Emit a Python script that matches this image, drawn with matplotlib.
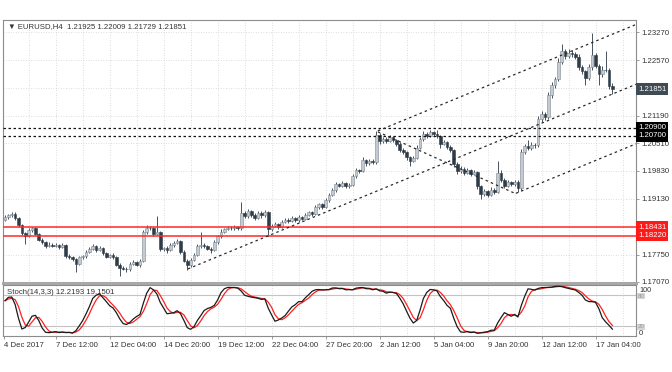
import matplotlib
matplotlib.use("Agg")
import matplotlib.pyplot as plt
import matplotlib.transforms as mtransforms
import numpy as np
import pandas as pd
from matplotlib import rcParams

rcParams["font.family"] = ["Liberation Sans", "DejaVu Sans"]

# ---- data ----
FIRST_OPEN = 1.1862
CLOSES = [
    1.1868, 1.1872, 1.1876, 1.1866, 1.1848, 1.1828, 1.1822, 1.1836, 1.1840, 1.1826,
    1.1812, 1.1805, 1.1796, 1.1800, 1.1797, 1.1799, 1.1794, 1.1798, 1.1772, 1.1768,
    1.1764, 1.1752, 1.1768, 1.1772, 1.1782, 1.1790, 1.1796, 1.1786, 1.1792, 1.1778,
    1.1770, 1.1774, 1.1768, 1.1750, 1.1742, 1.1740, 1.1738, 1.1752, 1.1756, 1.1750,
    1.1760, 1.1830, 1.1842, 1.1840, 1.1826, 1.1830, 1.1788, 1.1792, 1.1786, 1.1798,
    1.1804, 1.1808, 1.1782, 1.1760, 1.1748, 1.1762, 1.1774, 1.1796, 1.1800, 1.1796,
    1.1790, 1.1786, 1.1806, 1.1820, 1.1832, 1.1838, 1.1842, 1.1840, 1.1844, 1.1840,
    1.1878, 1.1870, 1.1882, 1.1874, 1.1866, 1.1878, 1.1872, 1.1880, 1.1838, 1.1846,
    1.1850, 1.1844, 1.1856, 1.1862, 1.1858, 1.1866, 1.1860, 1.1868, 1.1864, 1.1874,
    1.1880, 1.1876, 1.1892, 1.1900, 1.1894, 1.1910, 1.1924, 1.1936, 1.1950, 1.1946,
    1.1952, 1.1944, 1.1948, 1.1970, 1.1984, 1.1982, 1.2010, 1.2002, 1.2008, 1.2004,
    1.2072, 1.2056, 1.2062, 1.2058, 1.2066, 1.2060, 1.2050, 1.2034, 1.2030, 1.2016,
    1.2008, 1.2014, 1.2040, 1.2062, 1.2074, 1.2070, 1.2078, 1.2074, 1.2068, 1.2050,
    1.2054, 1.2042, 1.2034, 1.2000, 1.1982, 1.1988, 1.1978, 1.1984, 1.1976, 1.1980,
    1.1944, 1.1926, 1.1932, 1.1924, 1.1936, 1.1930, 1.1978, 1.1960, 1.1946, 1.1954,
    1.1950, 1.1956, 1.1940, 1.2030, 1.2044, 1.2040, 1.2048, 1.2046, 1.2112, 1.2124,
    1.2116, 1.2170, 1.2196, 1.2210, 1.2254, 1.2280, 1.2268, 1.2276, 1.2272, 1.2266,
    1.2240, 1.2230, 1.2214, 1.2240, 1.2270, 1.2244, 1.2222, 1.2234, 1.2232, 1.21925,
    1.21851,
]
# wick lengths in pips above / below the candle body
HI_WICK = [
    4, 3, 5, 4, 3, 4, 3, 6, 4, 3,
    3, 4, 3, 5, 3, 4, 3, 5, 3, 4,
    3, 3, 4, 3, 5, 4, 6, 3, 5, 3,
    4, 3, 4, 3, 3, 5, 3, 4, 5, 3,
    4, 5, 6, 4, 3, 40, 4, 3, 4, 5,
    4, 6, 3, 4, 3, 5, 4, 6, 32, 4,
    3, 4, 5, 4, 6, 4, 5, 3, 4, 3,
    27, 5, 6, 4, 3, 6, 4, 5, 3, 4,
    5, 3, 4, 5, 3, 4, 3, 4, 3, 5,
    4, 3, 5, 4, 3, 5, 4, 5, 6, 3,
    5, 3, 4, 6, 5, 4, 6, 3, 5, 4,
    10, 4, 5, 4, 6, 4, 3, 4, 5, 3,
    4, 5, 6, 5, 7, 4, 5, 4, 11, 4,
    5, 3, 4, 4, 5, 6, 4, 5, 3, 4,
    3, 4, 5, 4, 6, 4, 29, 6, 4, 5,
    4, 5, 3, 6, 5, 15, 6, 4, 8, 7,
    5, 8, 7, 6, 8, 17, 6, 8, 6, 5,
    6, 5, 4, 8, 54, 6, 5, 8, 46, 6,
    8.4,
]
LO_WICK = [
    3, 4, 3, 5, 4, 5, 20, 3, 4, 3,
    4, 3, 5, 3, 4, 3, 4, 3, 5, 4,
    5, 20, 4, 3, 5, 3, 4, 4, 3, 5,
    4, 3, 5, 4, 20, 4, 5, 3, 4, 4,
    5, 3, 4, 5, 4, 3, 5, 4, 6, 3,
    4, 3, 5, 4, 11, 3, 4, 3, 4, 5,
    4, 6, 3, 4, 3, 4, 3, 5, 3, 4,
    3, 5, 4, 6, 4, 3, 5, 4, 18, 4,
    3, 5, 4, 3, 5, 3, 4, 5, 3, 4,
    3, 5, 4, 3, 6, 3, 4, 3, 5, 4,
    3, 5, 4, 3, 4, 5, 3, 6, 4, 5,
    4, 6, 4, 5, 3, 5, 6, 4, 5, 6,
    14, 4, 3, 4, 5, 6, 4, 5, 4, 10,
    4, 6, 5, 7, 6, 5, 6, 4, 5, 4,
    6, 12, 5, 6, 4, 5, 3, 6, 5, 4,
    5, 4, 10, 4, 5, 6, 5, 6, 5, 7,
    8, 5, 6, 7, 5, 6, 8, 6, 7, 6,
    8, 7, 17, 5, 6, 7, 27, 6, 5, 7,
    12.2,
]
DATE_LABELS = [
    "4 Dec 2017", "7 Dec 12:00", "12 Dec 04:00", "14 Dec 20:00", "19 Dec 12:00",
    "22 Dec 04:00", "27 Dec 20:00", "2 Jan 12:00", "5 Jan 04:00", "9 Jan 20:00",
    "12 Jan 12:00", "17 Jan 04:00",
]
PRICE_TICKS = [1.2327, 1.2257, 1.2188, 1.2119, 1.2051, 1.1983, 1.1913, 1.1844, 1.1775, 1.1707]
PRICE_LABELS = ["1.23270", "1.22570", "", "1.21190", "1.20510", "1.19830", "1.19130", "", "1.17750", "1.17070"]
BLACK_LEVELS = [1.20900, 1.20700]
RED_LEVELS = [1.18431, 1.18220]
# trend/channel lines: (bar, price) -> (bar, price)
TRENDLINES = [
    ((54.2, 1.17395), (187.0, 1.21975)),
    ((110.5, 1.20820), (187.0, 1.23459)),
    ((110.5, 1.20795), (151.1, 1.19270)),
    ((151.4, 1.19270), (187.0, 1.20498)),
]
STOCH = (14, 3, 3)

PIP = 0.0001
BULL = "#c4cad0"
BULL_EDGE = "#7e8891"
BEAR = "#2f3b47"
WICK = "#46525d"
GRID = "#d2d2d2"
FRAME = "#8c8c8c"
TXT = "#333333"
FS = 5.6

W, H = 672, 372


def fx(px):
    return px / W


def fy(py):
    return 1 - py / H


def side_label(ax, y, text, fc, color="white"):
    tr = mtransforms.blended_transform_factory(ax.transAxes, ax.transData)
    ax.text(1.003, y, text, transform=tr, ha="left", va="center", fontsize=FS, color=color,
            bbox=dict(boxstyle="square,pad=0.3", fc=fc, ec=fc, lw=0), clip_on=False, zorder=6)


def main():
    fig = plt.figure(figsize=(6.72, 3.72), dpi=100)
    fig.patch.set_facecolor("white")
    ax = fig.add_axes([fx(3), fy(283), fx(636) - fx(3), fy(19.5) - fy(283)])
    ax2 = fig.add_axes([fx(3), fy(336), fx(636) - fx(3), fy(285) - fy(336)])

    closes = np.array(CLOSES)
    opens = np.r_[FIRST_OPEN, closes[:-1]]
    highs = np.maximum(opens, closes) + np.array(HI_WICK) * PIP
    lows = np.minimum(opens, closes) - np.array(LO_WICK) * PIP
    idx = np.arange(len(closes))
    n_bars = len(closes)

    xlim = (-0.6, 187.0)
    ax.set_xlim(*xlim)
    ax2.set_xlim(*xlim)
    ax.set_ylim(1.17045, 1.23583)
    ax2.set_ylim(0, 100)

    # grid
    label_bars = [-0.45] + [15 + 16 * k for k in range(len(DATE_LABELS) - 1)]
    grid_bars = [7 + 8 * k for k in range(23)]
    for a in (ax, ax2):
        for gx in grid_bars:
            a.axvline(gx, color=GRID, lw=0.6, ls=(0, (1, 2)), zorder=0)
    for p in PRICE_TICKS:
        ax.axhline(p, color=GRID, lw=0.6, ls=(0, (1, 2)), zorder=0)

    # candles
    ax.vlines(idx, lows, highs, color=WICK, lw=0.7, zorder=2)
    up = closes >= opens
    dn = ~up
    ax.bar(idx[up], (closes - opens)[up], bottom=opens[up], width=0.8,
           color=BULL, edgecolor=BULL_EDGE, lw=0.4, zorder=3)
    ax.bar(idx[dn], (opens - closes)[dn], bottom=closes[dn], width=0.8,
           color=BEAR, edgecolor=BEAR, lw=0.4, zorder=3)

    # horizontal levels
    for p in BLACK_LEVELS:
        ax.axhline(p, color="#111111", lw=0.9, ls=(0, (2, 2)), zorder=4)
        side_label(ax, p, f"{p:.5f}", "#000000")
    for p in RED_LEVELS:
        ax.axhline(p, color="#ff2a2a", lw=1.1, zorder=4)
        side_label(ax, p, f"{p:.5f}", "#ff1a1a")

    # channel / trend lines
    for (x0, y0), (x1, y1) in TRENDLINES:
        ax.plot([x0, x1], [y0, y1], color="#2a2a2a", lw=0.9, ls=(0, (2, 2.5)), zorder=4)

    side_label(ax, closes[-1], f"{closes[-1]:.5f}", "#404a53")

    # price axis
    ax.yaxis.tick_right()
    ax.set_yticks(PRICE_TICKS)
    ax.set_yticklabels(PRICE_LABELS)
    ax.tick_params(axis="y", direction="out", length=2, width=0.6, pad=2,
                   labelsize=FS, labelcolor=TXT, color=FRAME)
    ax.tick_params(axis="x", bottom=False, labelbottom=False)

    # stochastic
    k_len, d_len, slow = STOCH
    df = pd.DataFrame({"h": highs, "l": lows, "c": closes})
    ll = df["l"].rolling(k_len, min_periods=1).min()
    hh = df["h"].rolling(k_len, min_periods=1).max()
    num = (df["c"] - ll).rolling(slow, min_periods=1).sum()
    den = (hh - ll).rolling(slow, min_periods=1).sum()
    k = 100 * num / den
    d = k.rolling(d_len, min_periods=1).mean()
    for lvl in (80, 20):
        ax2.axhline(lvl, color="#c4c4c4", lw=0.8, zorder=1)
    ax2.plot(idx, d, color="#ff2020", lw=0.9, zorder=3)
    ax2.plot(idx, k, color="#1a1a1a", lw=0.9, zorder=4)

    tr2 = mtransforms.blended_transform_factory(ax2.transAxes, ax2.transData)
    ax2.text(1.005, 89, "100", transform=tr2, ha="left", va="center", fontsize=FS - 0.4, color=TXT)
    ax2.text(1.005, 4, "0", transform=tr2, ha="left", va="center", fontsize=FS, color=TXT)
    for lvl in (80, 20):
        ax2.text(1.003, lvl - 2, str(lvl), transform=tr2, ha="left", va="center", fontsize=FS - 1.2,
                 color="#9a9a9a", bbox=dict(boxstyle="square,pad=0.12", fc="#d6d6d6", ec="none"))
    ax2.set_yticks([])

    ax2.set_xticks(label_bars)
    ax2.set_xticklabels(DATE_LABELS)
    for lbl in ax2.get_xticklabels():
        lbl.set_ha("left")
    ax2.tick_params(axis="x", direction="out", length=2, width=0.6, pad=2,
                    labelsize=FS, labelcolor=TXT, color=FRAME)

    for a in (ax, ax2):
        for s in a.spines.values():
            s.set_color(FRAME)
            s.set_linewidth(0.8)
    ax.spines["bottom"].set_color("#a8a8a8")
    ax.spines["bottom"].set_linewidth(2.2)

    fig.text(fx(8), fy(27), "\u25BC EURUSD,H4  1.21925 1.22009 1.21729 1.21851",
             fontsize=FS, color=TXT, va="center", ha="left")
    fig.text(fx(7), fy(293), "Stoch(14,3,3) 12.2193 19.1501",
             fontsize=FS, color=TXT, va="center", ha="left")

    assert n_bars == len(HI_WICK) == len(LO_WICK)
    fig.savefig("out.png", dpi=100, facecolor="white")


if __name__ == "__main__":
    main()
